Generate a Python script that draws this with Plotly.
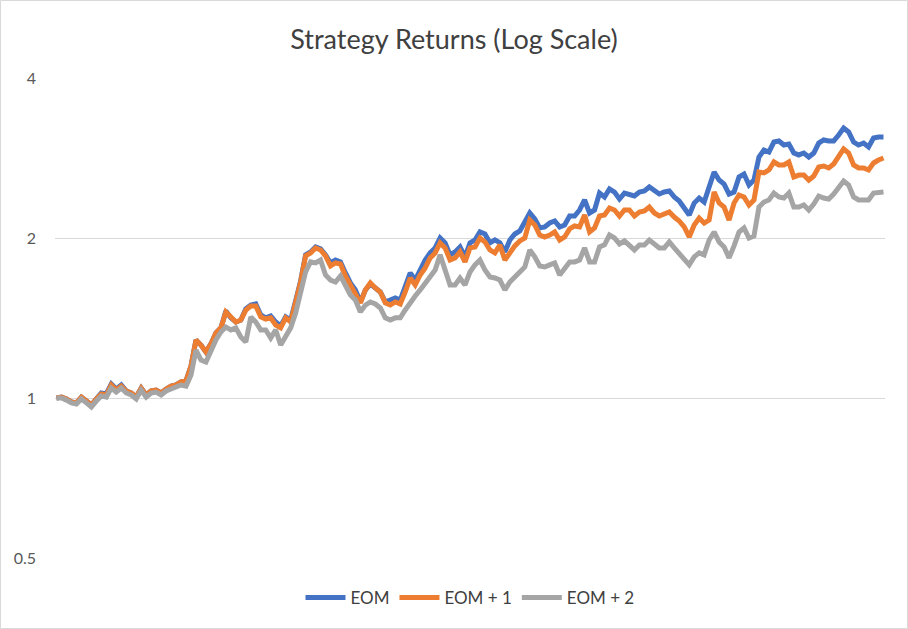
import plotly.graph_objects as go

series_names = ["EOM", "EOM + 1", "EOM + 2"]

eom = [
    1.000, 1.004, 0.996, 0.983, 0.979, 1.004, 0.987, 0.970, 0.996, 1.022,
    1.018, 1.063, 1.040, 1.058, 1.031, 1.022, 1.004, 1.044, 1.013, 1.031,
    1.035, 1.022, 1.040, 1.053, 1.058, 1.072, 1.077, 1.149, 1.286, 1.258,
    1.221, 1.264, 1.326, 1.355, 1.458, 1.415, 1.390, 1.402, 1.471, 1.496,
    1.503, 1.433, 1.415, 1.427, 1.390, 1.366, 1.421, 1.402, 1.523, 1.660,
    1.859, 1.883, 1.924, 1.908, 1.859, 1.795, 1.818, 1.803, 1.719, 1.646,
    1.597, 1.516, 1.597, 1.639, 1.611, 1.583, 1.516, 1.529, 1.543, 1.529,
    1.618, 1.719, 1.667, 1.741, 1.818, 1.875, 1.916, 2.000, 1.958, 1.859,
    1.883, 1.924, 1.843, 1.958, 1.983, 2.053, 2.035, 1.958, 1.983, 1.958,
    1.883, 1.983, 2.035, 2.062, 2.144, 2.229, 2.172, 2.089, 2.098, 2.134,
    2.153, 2.098, 2.116, 2.200, 2.200, 2.258, 2.358, 2.229, 2.258, 2.430,
    2.389, 2.473, 2.441, 2.368, 2.430, 2.409, 2.399, 2.441, 2.452, 2.495,
    2.462, 2.420, 2.441, 2.452, 2.389, 2.348, 2.277, 2.209, 2.327, 2.378,
    2.337, 2.516, 2.662, 2.571, 2.527, 2.420, 2.441, 2.605, 2.639, 2.516,
    2.571, 2.841, 2.928, 2.903, 3.031, 3.045, 2.992, 3.005, 2.890, 2.866,
    2.890, 2.841, 2.890, 3.018, 3.058, 3.045, 3.045, 3.125, 3.221, 3.166,
    3.031, 2.992, 3.018, 2.966, 3.084, 3.098, 3.098,
]

eom_plus_1 = [
    1.000, 1.004, 0.996, 0.983, 0.979, 1.004, 0.987, 0.970, 0.996, 1.018,
    1.013, 1.058, 1.035, 1.053, 1.031, 1.022, 1.004, 1.044, 1.013, 1.031,
    1.035, 1.022, 1.040, 1.053, 1.058, 1.072, 1.077, 1.149, 1.286, 1.258,
    1.221, 1.264, 1.326, 1.355, 1.452, 1.415, 1.390, 1.402, 1.464, 1.490,
    1.490, 1.421, 1.408, 1.415, 1.372, 1.355, 1.415, 1.390, 1.516, 1.653,
    1.851, 1.875, 1.916, 1.899, 1.851, 1.772, 1.795, 1.787, 1.697, 1.632,
    1.583, 1.510, 1.597, 1.646, 1.611, 1.583, 1.510, 1.496, 1.516, 1.503,
    1.583, 1.682, 1.632, 1.704, 1.757, 1.835, 1.875, 1.958, 1.916, 1.818,
    1.835, 1.883, 1.803, 1.916, 1.924, 2.000, 1.966, 1.899, 1.875, 1.941,
    1.818, 1.883, 1.933, 1.975, 2.000, 2.162, 2.116, 2.026, 2.009, 2.026,
    2.053, 1.983, 2.009, 2.080, 2.107, 2.098, 2.209, 2.053, 2.089, 2.200,
    2.209, 2.277, 2.258, 2.200, 2.258, 2.258, 2.200, 2.238, 2.248, 2.287,
    2.229, 2.200, 2.219, 2.238, 2.190, 2.153, 2.098, 2.009, 2.116, 2.181,
    2.134, 2.162, 2.441, 2.327, 2.287, 2.162, 2.327, 2.409, 2.389, 2.307,
    2.358, 2.662, 2.651, 2.685, 2.780, 2.744, 2.744, 2.780, 2.605, 2.627,
    2.627, 2.571, 2.616, 2.720, 2.732, 2.709, 2.756, 2.841, 2.941, 2.890,
    2.744, 2.709, 2.709, 2.685, 2.768, 2.804, 2.828,
]

eom_plus_2 = [
    1.000, 1.000, 0.991, 0.979, 0.974, 0.996, 0.979, 0.962, 0.987, 1.009,
    1.004, 1.044, 1.026, 1.044, 1.022, 1.013, 0.996, 1.035, 1.004, 1.022,
    1.026, 1.013, 1.031, 1.040, 1.044, 1.058, 1.053, 1.105, 1.231, 1.179,
    1.169, 1.231, 1.286, 1.331, 1.360, 1.343, 1.355, 1.303, 1.275, 1.421,
    1.390, 1.343, 1.343, 1.297, 1.343, 1.258, 1.308, 1.355, 1.445, 1.576,
    1.726, 1.803, 1.795, 1.818, 1.704, 1.667, 1.653, 1.697, 1.632, 1.563,
    1.529, 1.452, 1.496, 1.516, 1.503, 1.477, 1.415, 1.402, 1.415, 1.415,
    1.464, 1.516, 1.556, 1.597, 1.646, 1.689, 1.741, 1.859, 1.741, 1.632,
    1.632, 1.682, 1.632, 1.726, 1.780, 1.818, 1.741, 1.689, 1.682, 1.667,
    1.597, 1.653, 1.689, 1.726, 1.764, 1.899, 1.843, 1.772, 1.764, 1.780,
    1.795, 1.704, 1.749, 1.803, 1.803, 1.818, 1.916, 1.803, 1.803, 1.924,
    1.941, 2.026, 2.000, 1.949, 1.975, 1.933, 1.899, 1.941, 1.941, 1.983,
    1.949, 1.916, 1.916, 1.966, 1.916, 1.867, 1.826, 1.780, 1.843, 1.875,
    1.859, 1.983, 2.053, 1.966, 1.924, 1.835, 1.933, 2.053, 2.089, 2.000,
    2.017, 2.287, 2.337, 2.358, 2.430, 2.389, 2.378, 2.430, 2.287, 2.287,
    2.307, 2.258, 2.317, 2.399, 2.378, 2.368, 2.420, 2.484, 2.560, 2.516,
    2.389, 2.358, 2.358, 2.358, 2.430, 2.441, 2.441,
]

y_tick_vals = [0.5, 1, 2, 4]
y_tick_text = ["0.5", "1", "2", "4"]

colors = ["#4472C4", "#ED7D31", "#A5A5A5"]

periods = list(range(len(eom)))

fig = go.Figure()
for name, vals, col in zip(series_names, [eom, eom_plus_1, eom_plus_2], colors):
    fig.add_trace(go.Scatter(
        x=periods, y=vals, mode="lines", name=name,
        line=dict(color=col, width=5),
    ))

W, H = 908, 629
ml, mr, mt, mb = 55, 23, 78, 71
pw, ph = W - ml - mr, H - mt - mb

fig.update_layout(
    width=W, height=H,
    margin=dict(l=ml, r=mr, t=mt, b=mb, autoexpand=False),
    paper_bgcolor="white", plot_bgcolor="white",
    font=dict(family="Lato, 'Open Sans', sans-serif", color="#595959", size=15),
    title=dict(text="Strategy Returns (Log Scale)", x=0.5, xanchor="center",
               y=1 - 40 / H, yanchor="middle",
               font=dict(size=27, color="#404040")),
    showlegend=True,
    legend=dict(orientation="h", x=0.5, xanchor="center",
                y=-40 / ph, yanchor="middle",
                font=dict(size=17, color="#404040"),
                itemwidth=40, traceorder="normal"),
    xaxis=dict(range=[-0.3, len(eom) - 0.7], showgrid=False, zeroline=False,
               showticklabels=False, showline=False, ticks=""),
    yaxis=dict(type="log", range=[-0.30103, 0.60206],
               tickvals=y_tick_vals, ticktext=y_tick_text,
               showgrid=True, gridcolor="#D9D9D9", gridwidth=1,
               zeroline=False, showline=False, ticks="",
               ticklabelstandoff=18, tickfont=dict(size=16, color="#595959")),
    shapes=[dict(type="rect", xref="paper", yref="paper",
                 x0=-(ml - 0.5) / pw, x1=1 + (mr - 0.5) / pw,
                 y0=-(mb - 0.5) / ph, y1=1 + (mt - 0.5) / ph,
                 line=dict(color="#D9D9D9", width=1), layer="below")],
)

fig.write_html("out.html", config={"displayModeBar": False},
               post_script="document.body.style.margin='0';")
